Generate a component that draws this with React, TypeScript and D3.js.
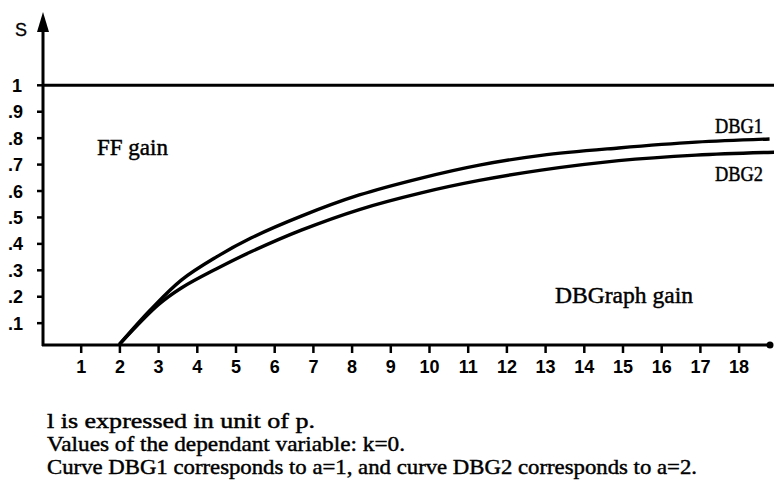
import React, { useRef, useEffect } from "react";
import * as d3 from "d3";

// values
const xTickValues = [1, 2, 3, 4, 5, 6, 7, 8, 9, 10, 11, 12, 13, 14, 15, 16, 17, 18];
const xTickLabels = ["1", "2", "3", "4", "5", "6", "7", "8", "9", "10", "11", "12", "13", "14", "15", "16", "17", "18"];
const yTickValues = [0.1, 0.2, 0.3, 0.4, 0.5, 0.6, 0.7, 0.8, 0.9, 1];
const yTickLabels = [".1", ".2", ".3", ".4", ".5", ".6", ".7", ".8", ".9", "1"];

const ffGain = 1;

const dbg1X = [2.0, 2.8, 3.6, 4.5, 5.4, 6.7, 8.2, 9.8, 11.3, 12.9, 14.9, 16.9, 18.8];
const dbg1S = [0.02, 0.15, 0.263, 0.35, 0.422, 0.505, 0.585, 0.649, 0.698, 0.735, 0.763, 0.785, 0.797];
const dbg2X = [2.0, 3.0, 3.6, 4.5, 5.4, 6.7, 8.2, 9.8, 11.3, 12.9, 14.9, 16.9, 18.95];
const dbg2S = [0.02, 0.169, 0.233, 0.305, 0.37, 0.452, 0.53, 0.593, 0.64, 0.679, 0.715, 0.736, 0.747];

const notes = [
	"l is expressed  in  unit  of  p.",
	"Values of the dependant variable: k=0.",
	"Curve DBG1 corresponds to a=1, and curve DBG2 corresponds to a=2.",
];
const noteWidths = [268, 358, 650];

const App = () => {
	const svgRef = useRef<SVGSVGElement | null>(null);

	useEffect(() => {
		if (!svgRef.current) return;
		const width = 774;
		const height = 485;
		const svg = d3.select(svgRef.current);
		svg.attr("width", width).attr("height", height);
		svg.selectAll("*").remove();

		const serif = "'Liberation Serif', 'Times New Roman', serif";
		const sans = "'Liberation Sans', Arial, sans-serif";

		const x = d3.scaleLinear().domain([0, 18]).range([42, 738.6]);
		const y = d3.scaleLinear().domain([0, 1]).range([349.6, 85.3]);
		const axisY = 345;
		const axisX = 43;

		// y axis with arrow
		svg.append("line")
			.attr("x1", axisX).attr("x2", axisX)
			.attr("y1", axisY + 1).attr("y2", 28)
			.attr("stroke", "#000").attr("stroke-width", 3);
		svg.append("path")
			.attr("d", `M${axisX},12 L${axisX - 6},32 L${axisX + 6},32 Z`)
			.attr("fill", "#000");
		svg.append("text")
			.attr("x", 15).attr("y", 36)
			.attr("font-family", sans).attr("font-size", 18)
			.attr("stroke", "#000").attr("stroke-width", 0.3)
			.text("S");

		// y ticks
		const yt = svg.append("g");
		yTickValues.forEach((v, i) => {
			yt.append("line")
				.attr("x1", axisX - 6).attr("x2", axisX)
				.attr("y1", y(v)).attr("y2", y(v))
				.attr("stroke", "#000").attr("stroke-width", 2.5);
			yt.append("text")
				.attr("x", yTickLabels[i] === "1" ? 12 : 8)
				.attr("y", y(v) + 6.5)
				.attr("font-family", sans).attr("font-size", 18).attr("font-weight", "bold")
				.text(yTickLabels[i]);
		});

		// x axis
		svg.append("line")
			.attr("x1", axisX - 1).attr("x2", 770)
			.attr("y1", axisY).attr("y2", axisY)
			.attr("stroke", "#000").attr("stroke-width", 3);
		svg.append("circle")
			.attr("cx", 770).attr("cy", axisY).attr("r", 3.5)
			.attr("fill", "#000");

		const xAxis = d3.axisBottom(x)
			.tickValues(xTickValues)
			.tickSize(8)
			.tickPadding(7)
			.tickFormat((d, i) => xTickLabels[i]);
		const xg = svg.append("g")
			.attr("transform", `translate(0,${axisY})`)
			.call(xAxis);
		xg.select(".domain").remove();
		xg.selectAll(".tick line").attr("stroke", "#000").attr("stroke-width", 2.5);
		xg.selectAll(".tick text")
			.attr("fill", "#000")
			.attr("font-family", sans)
			.attr("font-size", 18)
			.attr("font-weight", "bold");

		// FF gain line
		svg.append("line")
			.attr("x1", axisX).attr("x2", width)
			.attr("y1", y(ffGain)).attr("y2", y(ffGain))
			.attr("stroke", "#000").attr("stroke-width", 3);

		// curves
		const line = d3.line<[number, number]>()
			.x((d) => x(d[0]))
			.y((d) => y(d[1]))
			.curve(d3.curveCatmullRom.alpha(0.5));
		const dbg1 = dbg1X.map((v, i) => [v, dbg1S[i]] as [number, number]);
		const dbg2 = dbg2X.map((v, i) => [v, dbg2S[i]] as [number, number]);
		[dbg1, dbg2].forEach((pts) => {
			svg.append("path")
				.attr("d", line(pts))
				.attr("fill", "none")
				.attr("stroke", "#000")
				.attr("stroke-width", 3.4);
		});

		// annotations
		const label = (tx: number, ty: number, size: number, txt: string, len?: number, adj = "spacing") => {
			const t = svg.append("text")
				.attr("x", tx).attr("y", ty)
				.attr("font-family", serif).attr("font-size", size)
				.attr("fill", "#000")
				.attr("stroke", "#000").attr("stroke-width", 0.45)
				.text(txt);
			if (len) t.attr("textLength", len).attr("lengthAdjust", adj);
		};
		label(97, 155, 23, "FF gain", 71, "spacingAndGlyphs");
		label(555, 303, 23, "DBGraph  gain", 138, "spacingAndGlyphs");
		label(715, 133, 21, "DBG1", 48, "spacingAndGlyphs");
		label(715, 181, 21, "DBG2", 48, "spacingAndGlyphs");

		notes.forEach((n, i) => {
			label(47, 428 + i * 23, 22, n, noteWidths[i], "spacingAndGlyphs");
		});
	}, []);

	return (
		<div style={{ position: "absolute", left: 0, top: 0, background: "#fff" }}>
			<svg ref={svgRef}></svg>
		</div>
	);
};

export default App;
